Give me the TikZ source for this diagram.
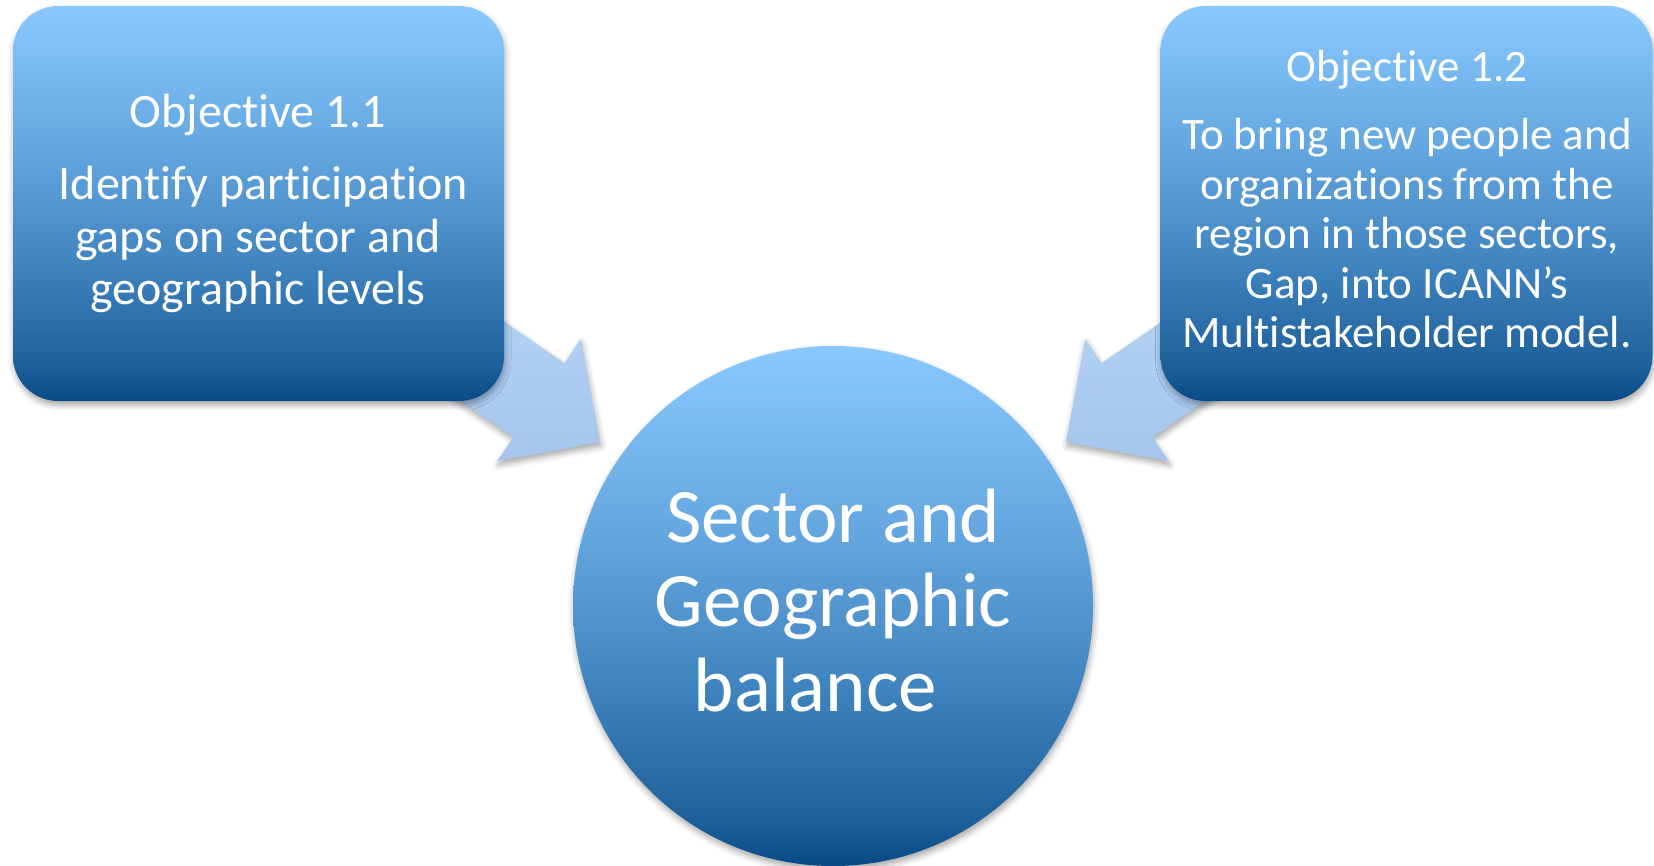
\documentclass[tikz,border=0pt]{standalone}
\usepackage{fontspec}
\setmainfont{Carlito}[Ligatures=NoCommon]
\usetikzlibrary{shadows.blur}
\definecolor{gdark}{HTML}{084A86}
\definecolor{gmid1}{HTML}{1C5E98}
\definecolor{gmid2}{HTML}{3F83BE}
\definecolor{gmid3}{HTML}{64A6DF}
\definecolor{glight}{HTML}{89C9FF}
\definecolor{arrtop}{HTML}{B5D6F7}
\definecolor{arrbot}{HTML}{A5C5EC}
\pgfdeclareverticalshading{objgrad}{100bp}{color(0bp)=(gdark); color(25bp)=(gdark); color(29bp)=(gmid1); color(42bp)=(gmid2); color(57bp)=(gmid3); color(75bp)=(glight); color(100bp)=(glight)}
\tikzset{
  softshadow/.style={blur shadow={shadow xshift=1pt, shadow yshift=-4pt, shadow blur radius=6pt, shadow opacity=35}},
  objbox/.style={rectangle, rounded corners=45pt, shading=objgrad, draw=none, inner sep=0pt, outer sep=0pt, softshadow},
  objcircle/.style={circle, shading=objgrad, draw=none, inner sep=0pt, outer sep=0pt, softshadow},
  blockarrow/.style={top color=arrtop, bottom color=arrbot, draw=none, softshadow},
  wtext/.style={text=white, inner sep=0pt, align=center, anchor=base},
  lefttext/.style={wtext, font=\fontsize{48}{52.5}\selectfont},
  righttext/.style={wtext, font=\fontsize{45}{49.5}\selectfont},
  centertext/.style={wtext, font=\fontsize{77}{84.5}\selectfont},
}
\begin{document}
\begin{tikzpicture}[x=1pt,y=-1pt]
\useasboundingbox (0,0) rectangle (1654,866);
% block arrows (drawn first so the boxes hide their tails)
\path[blockarrow] (419.4,263.7) -- (564.4,363.1) -- (580.8,339.2) -- (600,442)
  -- (497.2,461.2) -- (513.6,437.3) -- (368.6,337.8) -- cycle;
\path[blockarrow] (1246.6,263.7) -- (1101.6,363.1) -- (1085.2,339.2) -- (1066,442)
  -- (1168.8,461.2) -- (1152.4,437.3) -- (1297.4,337.8) -- cycle;
% boxes
\node[objbox, minimum width=491pt, minimum height=395pt] (b1) at (258.5,203.5) {};
\node[objbox, minimum width=492pt, minimum height=395pt] (b2) at (1406.5,203.5) {};
% circle
\node[objcircle, minimum size=520pt] (c) at (833,606) {};
% texts (base anchor = baseline of the last line)
\node[lefttext] (t1) at (258,128) {Objective 1.1};
\node[lefttext] (d1) at (258,305) {\hphantom{\ }Identify participation\\gaps on sector and\\geographic levels};
\node[righttext] (t2) at (1407,82) {Objective 1.2};
\node[righttext] (d2) at (1407,348) {To bring new people and\\organizations from the\\region in those sectors,\\Gap, into ICANN’s\\Multistakeholder model.};
\node[centertext] (ct) at (833,711) {Sector and\\Geographic\\balance\hphantom{\ \ }};
\end{tikzpicture}
\end{document}
